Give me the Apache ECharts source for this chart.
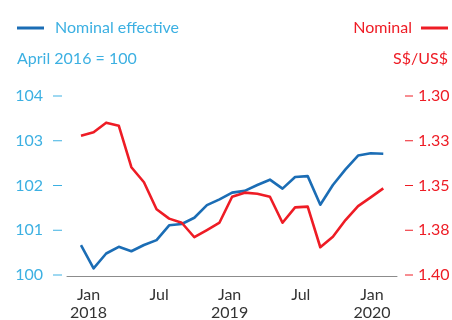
<!DOCTYPE html>
<html>
<head>
<meta charset="utf-8">
<script src="https://cdn.jsdelivr.net/npm/echarts@6/dist/echarts.min.js"></script>
<style>
  html, body { margin: 0; padding: 0; background: #fff; }
  #chart { width: 452px; height: 320px; }
</style>
</head>
<body>
<div id="chart"></div>
<script>
// Singapore dollar: nominal effective index (left) and S$ per US$ (right, inverted)
const effectiveName = 'Nominal effective';
const nominalName = 'Nominal';
const effectiveUnit = 'April 2016 = 100';
const nominalUnit = 'S$/US$';

// Nominal effective exchange rate, April 2016 = 100
const effective = [100.67, 100.15, 100.48, 100.63, 100.53, 100.67, 100.78, 101.11, 101.14,
  101.28, 101.56, 101.69, 101.84, 101.88, 102.01, 102.13, 101.93, 102.19, 102.21,
  101.57, 102.01, 102.36, 102.67, 102.72, 102.71];

// Nominal rate, S$ per US$
const nominal = [1.3222, 1.3203, 1.3149, 1.3166, 1.3398, 1.3482, 1.3633, 1.3685, 1.3708,
  1.3789, 1.3749, 1.3707, 1.3563, 1.3540, 1.3546, 1.3563, 1.3708, 1.3622, 1.3618,
  1.3845, 1.3786, 1.3693, 1.3615, 1.3566, 1.3516];

// Axis tick labels
const xTickLabels = ['Jan\n2018', 'Jul', 'Jan\n2019', 'Jul', 'Jan\n2020'];
const leftTickLabels = ['100', '101', '102', '103', '104'];
const rightTickLabels = ['1.30', '1.33', '1.35', '1.38', '1.40'];

const BLUE = '#1b6db5';
const RED = '#ee1c25';
const LIGHT_BLUE = '#3cb0e2';
const FONT = 'Lato';

// where the month labels sit along the observation index
const xLabelAt = [0.6, 6.2, 11.8, 17.45, 23.1];

const chart = echarts.init(document.getElementById('chart'), null, { renderer: 'canvas' });

chart.setOption({
  animation: false,
  backgroundColor: '#fff',
  textStyle: { fontFamily: FONT },
  grid: { left: 67, right: 55, top: 96, height: 179, containLabel: false, outerBoundsMode: 'none' },
  legend: [
    {
      data: [effectiveName],
      left: 17, top: 18, padding: 0,
      icon: 'rect', itemWidth: 27, itemHeight: 3,
      selectedMode: false,
      textStyle: { color: LIGHT_BLUE, fontSize: 16, fontFamily: FONT, lineHeight: 20, padding: [0, 0, 0, 6] }
    },
    {
      data: [nominalName],
      right: 4, top: 18, align: 'right', padding: 0,
      icon: 'rect', itemWidth: 27, itemHeight: 3,
      selectedMode: false,
      textStyle: { color: RED, fontSize: 16, fontFamily: FONT, lineHeight: 20, padding: [0, 4, 0, 0] }
    }
  ],
  graphic: [
    { type: 'text', left: 17, top: 51, style: { text: effectiveUnit, fill: LIGHT_BLUE, font: '16px ' + FONT } },
    { type: 'text', right: 4, top: 51, style: { text: nominalUnit, fill: RED, font: '16px ' + FONT } }
  ],
  xAxis: {
    type: 'value',
    min: -1.11, max: 25.09,
    offset: 1,
    splitLine: { show: false },
    axisLine: { show: true, lineStyle: { color: '#8c8c8c', width: 1 } },
    axisTick: { show: false },
    axisLabel: {
      customValues: xLabelAt,
      formatter: function (v) {
        let best = 0;
        xLabelAt.forEach(function (p, i) { if (Math.abs(p - v) < Math.abs(xLabelAt[best] - v)) best = i; });
        return xTickLabels[best];
      },
      color: '#333', fontSize: 16, fontFamily: FONT, lineHeight: 18, margin: 10,
      verticalAlign: 'top'
    }
  },
  yAxis: [
    {
      type: 'value', position: 'left',
      min: 100, max: 104, interval: 1,
      splitLine: { show: false },
      axisLine: { show: false },
      axisTick: { show: false },
      axisLabel: {
        // value followed by a short dash marker
        formatter: function (v) { return '{n|' + leftTickLabels[Math.round(v - 100)] + '}{d|}'; },
        margin: 5,
        rich: {
          n: { color: LIGHT_BLUE, fontSize: 16, fontFamily: FONT, padding: [0, 10, 0, 0] },
          d: { width: 9, height: 1, backgroundColor: LIGHT_BLUE }
        }
      }
    },
    {
      type: 'value', position: 'right', inverse: true,
      min: 1.30, max: 1.40, interval: 0.025,
      splitLine: { show: false },
      axisLine: { show: false },
      axisTick: { show: false },
      axisLabel: {
        // short dash marker followed by the value
        formatter: function (v) { return '{d|}{n|' + rightTickLabels[Math.round((v - 1.30) / 0.025)] + '}'; },
        margin: 8,
        rich: {
          n: { color: RED, fontSize: 16, fontFamily: FONT, padding: [0, 0, 0, 5] },
          d: { width: 8, height: 1, backgroundColor: RED }
        }
      }
    }
  ],
  series: [
    {
      name: effectiveName, type: 'line', yAxisIndex: 0,
      data: effective.map(function (v, i) { return [i, v]; }),
      showSymbol: false, smooth: false,
      lineStyle: { color: BLUE, width: 2.6, join: 'round' },
      itemStyle: { color: BLUE }
    },
    {
      name: nominalName, type: 'line', yAxisIndex: 1,
      data: nominal.map(function (v, i) { return [i, v]; }),
      showSymbol: false, smooth: false,
      lineStyle: { color: RED, width: 2.6, join: 'round' },
      itemStyle: { color: RED }
    }
  ]
});
</script>
</body>
</html>
